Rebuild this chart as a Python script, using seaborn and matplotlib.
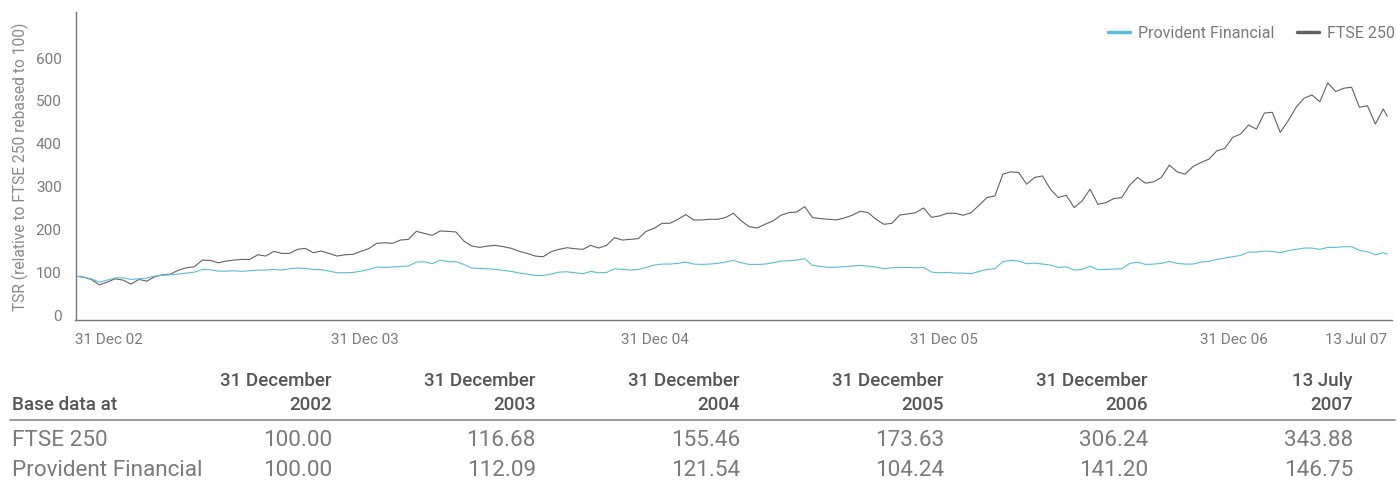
"""TSR chart: Provident Financial vs FTSE 250, with base data table."""

import matplotlib

matplotlib.use("Agg")
import matplotlib.pyplot as plt
import numpy as np
import pandas as pd
import seaborn as sns

# series sampled every 10 days from 31 Dec 2002, last point is 13 Jul 2007
ftse_250 = [
    89.5, 87.2, 81.8, 69.3, 75.5, 83.3, 80.2, 70.9, 81.8, 77.9, 88, 92.7, 94.3, 103.6, 109,
    111.4, 126.9, 126.2, 120.7, 124.6, 126.9, 128.5, 128.5, 139.4, 136.3, 147.2, 142.5, 142.5, 151.9,
    154.2, 144.1, 147.9, 142.5, 136.3, 139.4, 140.2, 147.2, 153.5, 165.9, 167.4, 165.9, 173.6, 175.2,
    193.9, 189.3, 184.6, 194.7, 193.9, 192.4, 171.3, 159.6, 156.5, 159.6, 161.2, 158.1, 154.2, 147.2,
    142.5, 136.3, 134.7, 146.4, 151.9, 155.7, 153.5, 151.9, 161.2, 155, 161.2, 179.1, 173.6, 175.2,
    176.8, 193.9, 200.9, 212.6, 212.6, 222, 232.9, 220.4, 220.4, 222, 222, 225.9, 236,
    218, 204.9, 201.6, 210.3, 218, 231.3, 237.5, 239, 251.6, 225.9, 223.6, 222, 220.4, 225,
    231.3, 240.7, 237.5, 222, 210.3, 212.6, 232, 234.4, 237.5, 248.4, 226.6, 229.7, 236, 236,
    231.3, 237.5, 254.7, 272.6, 276.4, 327.1, 332.5, 331, 303.7, 319.4, 323.1, 292.1, 272.6, 278,
    249.2, 264.7, 292.1, 257, 260.9, 270.2, 272.6, 301.4, 319.4, 306.1, 309.1, 319.4, 348.1, 332.5,
    327.1, 345.1, 354.4, 362.1, 381.5, 387.1, 412.9, 420.6, 441.6, 432.2, 469.6, 471.2, 424.5,
    451.6, 482.9, 504, 511.7, 496, 540, 519.4, 527.3, 529.7, 482.9, 486.7, 443.9, 479, 461.9,
]
provident = [
    89.5, 87.2, 83.3, 75.5, 80.2, 85.6, 85.6, 81.8, 83.3, 84.9, 89.5, 91.9, 92.7, 94.3, 96.6,
    98.9, 105.1, 104.4, 101.2, 101.2, 102, 100.5, 102, 103.6, 103.6, 105.1, 103.6, 106.7, 108.3,
    107.5, 105.1, 104.4, 101.2, 97.4, 97.4, 98.1, 101.2, 105.1, 110.6, 109.8, 110.6, 112.1, 112.9,
    122.3, 123.1, 118.4, 126.9, 123.1, 123.1, 116.8, 108.3, 107.5, 106.7, 105.1, 102.8, 100.5, 96.6,
    94.3, 91.1, 91.1, 94.3, 98.9, 99.7, 97.4, 95.1, 100.5, 97.4, 98.1, 106.7, 105.1, 103.6,
    105.1, 109.8, 115.3, 117.6, 117.6, 119.2, 122.3, 117.6, 116.8, 117.6, 119.2, 122.3, 126.2,
    120.7, 116.8, 116.8, 117.6, 120.7, 124.6, 125.4, 126.9, 130, 114.5, 112.1, 109.8, 110.6, 111.4,
    112.9, 114.5, 112.9, 110.6, 106.7, 109, 109.8, 109.8, 109, 109.8, 98.9, 97.4, 98.1, 96.6,
    96.6, 95.1, 100.5, 105.1, 106.7, 123.1, 126.2, 124.6, 118.4, 119.9, 117.6, 115.3, 109.8, 111.4,
    103.6, 105.1, 112.9, 104.4, 105.1, 105.9, 106.7, 119.2, 122.3, 116.8, 117.6, 119.2, 123.8, 119.2,
    117.6, 117.6, 122.3, 123.8, 128.5, 131.6, 134.7, 137.9, 145.6, 145.6, 147.9, 147.1, 144.1,
    148.8, 151.9, 154.9, 154.9, 151.9, 156.5, 156.5, 158.1, 158.1, 149.5, 146.4, 139.4, 144.1, 140.9,
]
dates = pd.date_range("2002-12-31", periods=len(ftse_250) - 1, freq="10D").append(
    pd.DatetimeIndex(["2007-07-13"])
)

tick_dates = pd.to_datetime(
    ["2002-12-31", "2003-12-31", "2004-12-31", "2005-12-31", "2006-12-31", "2007-07-13"]
)
tick_labels = ["31 Dec 02", "31 Dec 03", "31 Dec 04", "31 Dec 05", "31 Dec 06", "13 Jul 07"]

# base data table
table_dates = [
    ("31 December", "2002"), ("31 December", "2003"), ("31 December", "2004"),
    ("31 December", "2005"), ("31 December", "2006"), ("13 July", "2007"),
]
ftse_base = [100.00, 116.68, 155.46, 173.63, 306.24, 343.88]
provident_base = [100.00, 112.09, 121.54, 104.24, 141.20, 146.75]

BLUE = "#55bfdb"
GREY = "#626262"
TEXT = "#7a7a7a"

sns.set_theme(style="white")
plt.rcParams["font.family"] = ["Roboto", "DejaVu Sans"]

W, H = 1397, 481
fig = plt.figure(figsize=(W / 100, H / 100), dpi=100)
ax = fig.add_axes([75.5 / W, 1 - 320.7 / H, (1392 - 75.5) / W, (320.7 - 13) / H])

df = pd.DataFrame({"date": dates, "FTSE 250": ftse_250, "Provident Financial": provident})
sns.lineplot(data=df, x="date", y="FTSE 250", color=GREY, linewidth=0.8, ax=ax, label="FTSE 250")
sns.lineplot(data=df, x="date", y="Provident Financial", color=BLUE, linewidth=0.8, ax=ax,
             label="Provident Financial")

ax.set_xlim(pd.Timestamp("2002-12-31"), pd.Timestamp("2007-07-19"))
ax.set_ylim(-12, 705)
ax.set_yticks(np.arange(0, 700, 100))
ax.set_xticks(tick_dates)
ax.set_xticklabels(tick_labels)
ax.tick_params(axis="both", length=0, labelsize=11, labelcolor=TEXT)
ax.tick_params(axis="y", pad=10)
ax.tick_params(axis="x", pad=9)
xt = ax.get_xticklabels()
xt[0].set_ha("left")
xt[-1].set_ha("right")

ax.set_xlabel("")
ax.set_ylabel("TSR (relative to FTSE 250 rebased to 100)", fontsize=11.2, color="#8a8a8a")
ax.yaxis.set_label_coords(-0.035, 0.5)

for side in ("top", "right"):
    ax.spines[side].set_visible(False)
for side in ("left", "bottom"):
    ax.spines[side].set_color("#777777")
    ax.spines[side].set_linewidth(1.0)

handles, labels = ax.get_legend_handles_labels()
order = [labels.index("Provident Financial"), labels.index("FTSE 250")]
leg = ax.legend([handles[i] for i in order], [labels[i] for i in order], loc="upper right",
                bbox_to_anchor=(1 + 0.009, 1 - 12 / H), bbox_transform=fig.transFigure,
                ncol=2, frameon=False, fontsize=11.5, handlelength=1.4, columnspacing=1.4,
                handletextpad=0.5, labelcolor=TEXT)
for line in leg.get_lines():
    line.set_linewidth(2.5)

# table under the chart
col_right = [332, 536, 740, 944, 1148, 1353]
head_kw = dict(fontsize=13.5, color="#555555", fontweight="medium", va="center")
row_kw = dict(fontsize=16.2, color=TEXT, va="center")


def fy(px):
    return 1 - px / H


fig.text(12 / W, fy(405), "Base data at", ha="left", **head_kw)
for xr, (top, bottom) in zip(col_right, table_dates):
    fig.text(xr / W, fy(381), top, ha="right", **head_kw)
    fig.text(xr / W, fy(405), bottom, ha="right", **head_kw)

fig.add_artist(plt.Line2D([10 / W, 1395 / W], [fy(421), fy(421)], color="#888888", linewidth=1.2))

fig.text(12 / W, fy(441), "FTSE 250", ha="left", **row_kw)
fig.text(12 / W, fy(471), "Provident Financial", ha="left", **row_kw)
for xr, a, b in zip(col_right, ftse_base, provident_base):
    fig.text(xr / W, fy(441), f"{a:.2f}", ha="right", **row_kw)
    fig.text(xr / W, fy(471), f"{b:.2f}", ha="right", **row_kw)

fig.savefig("out.png", dpi=100)
plt.close(fig)
